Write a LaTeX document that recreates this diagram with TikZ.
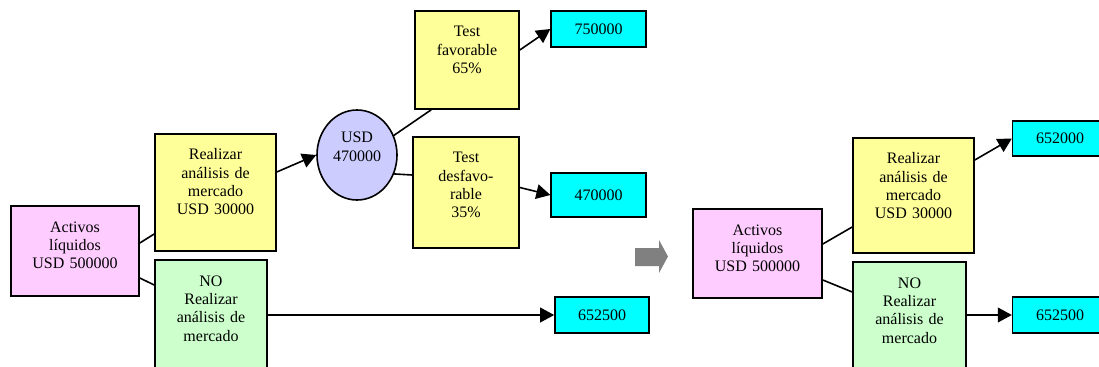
\documentclass[tikz,border=0pt]{standalone}
\usepackage{fontspec}
\setmainfont{Liberation Serif}
\usetikzlibrary{arrows.meta,calc,positioning,shapes.geometric}
\definecolor{pinkbox}{HTML}{FFCCFF}
\definecolor{yellowbox}{HTML}{FFFF99}
\definecolor{greenbox}{HTML}{CCFFCC}
\definecolor{lilacbox}{HTML}{CCCCFF}
\definecolor{valbox}{HTML}{00FFFF}

\begin{document}
\begin{tikzpicture}[x=0.75pt, y=-0.75pt, font=\fontsize{12}{13.75}\selectfont,
    box/.style={rectangle, draw, line width=1.2pt, align=center, inner sep=0pt, text height=19.5pt, text width=#1, minimum width=#1},
    val/.style={rectangle, draw, line width=1.2pt, fill=valbox, inner sep=0pt, minimum width=71pt, minimum height=27pt},
    link/.style={line width=1.2pt},
    arr/.style={line width=1.2pt, -{Triangle[length=10.5pt, width=11pt]}}]
    \useasboundingbox (0,0) rectangle (1099,367);

    % left tree
    \node[box=96pt, fill=pinkbox, text depth=48pt] (act) at (75,251) {Activos\\líquidos\\USD 500000};
    \node[box=90.75pt, fill=yellowbox, text depth=68.25pt] (real) at (215.5,192.5) {Realizar\\análisis de\\mercado\\USD 30000};
    \node[box=84pt, fill=greenbox, text depth=64.5pt] (nor) at (211,316) {NO\\Realizar\\análisis de\\mercado};
    \node[ellipse, draw, line width=1.2pt, fill=lilacbox, align=center, inner sep=0pt, text width=40pt, minimum width=60pt, minimum height=67.5pt, text height=9pt, text depth=27pt] (usd) at (357,155) {USD\\470000};
    \node[box=78pt, fill=yellowbox, text depth=54pt] (fav) at (467,60) {Test\\favorable\\65\%};
    \node[box=79.5pt, fill=yellowbox, text depth=63.75pt] (des) at (466,192.5) {Test\\desfavo-\\rable\\35\%};
    \node[val] (v750) at (598.5,29) {750000};
    \node[val, minimum height=33pt] (v470) at (598.5,195) {470000};
    \node[val, minimum width=70.5pt] (v652) at (602,315) {652500};

    \draw[link] ($(act.east)+(0,-8)$) -- ($(real.west)+(0,41.5)$);
    \draw[link] ($(act.east)+(0,27)$) -- ($(nor.west)+(0,-31)$);
    \draw[arr] ($(real.east)+(0,-20.5)$) -- (usd.west);
    \draw[link] (usd.28) -- ($(fav.south west)+(17,0)$);
    \draw[link] (usd.-27) -- ($(des.west)+(0,-17.5)$);
    \draw[arr] ($(fav.east)+(0,-10)$) -- (v750.west);
    \draw[arr] ($(des.east)+(0,-5)$) -- (v470.west);
    \draw[arr] (nor.east |- v652.west) -- (v652.west);

    % grey arrow
    \fill[gray] (635,248) -- (659,248) -- (659,240) -- (668,256.5) -- (659,273) -- (659,266) -- (635,266) -- cycle;

    % right tree
    \node[box=96.75pt, fill=pinkbox, text depth=47.25pt] (ract) at (757.5,253.5) {Activos\\líquidos\\USD 500000};
    \node[box=90.75pt, fill=yellowbox, text depth=66.75pt] (rreal) at (913.5,195.5) {Realizar\\análisis de\\mercado\\USD 30000};
    \node[box=84.75pt, fill=greenbox, text depth=64.5pt] (rnor) at (909.5,318) {NO\\Realizar\\análisis de\\mercado};
    \node[val, minimum height=26.25pt] (r652a) at (1060,138.5) {652000};
    \node[val] (r652b) at (1060,315) {652500};

    \draw[link] ($(ract.east)+(0,-9.5)$) -- ($(rreal.west)+(0,31.5)$);
    \draw[link] ($(ract.east)+(0,26.5)$) -- ($(rnor.west)+(0,-26)$);
    \draw[arr] ($(rreal.east)+(0,-35.5)$) -- (r652a.west);
    \draw[arr] (rnor.east |- r652b.west) -- (r652b.west);
\end{tikzpicture}
\end{document}
